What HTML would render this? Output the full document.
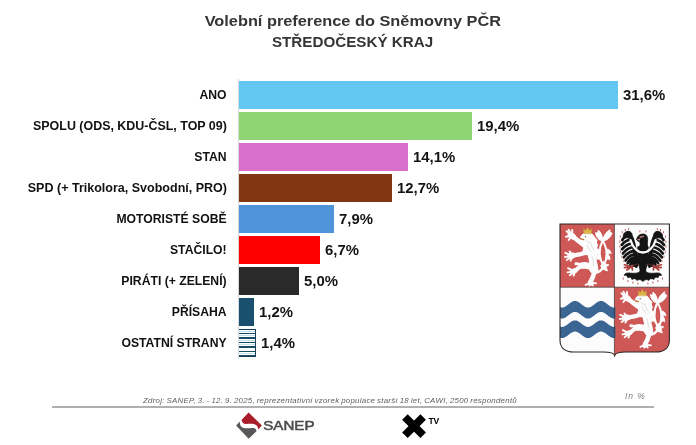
<!DOCTYPE html>
<html lang="cs">
<head>
<meta charset="utf-8">
<title>Volební preference do Sněmovny PČR – Středočeský kraj</title>
<style>
html,body{margin:0;padding:0;background:#fff;}
body{width:696px;height:445px;position:relative;overflow:hidden;font-family:"Liberation Sans",sans-serif;}
.abs{position:absolute;white-space:nowrap;}
.title{left:4.5px;width:696px;text-align:center;font-weight:bold;color:#353535;font-size:15.2px;line-height:20px;}
.title span{display:inline-block;transform-origin:50% 50%;}
.lab{right:469.4px;font-weight:bold;font-size:12.2px;color:#111;line-height:14px;transform-origin:100% 50%;}
.val{font-weight:bold;font-size:14.9px;color:#141414;line-height:16px;}
.bar{position:absolute;left:238.75px;height:27.7px;}
.axis{position:absolute;left:238px;top:79px;width:1px;height:280px;background:#d9d9d9;}
.src{font-style:italic;font-size:7.5px;color:#606060;left:143px;top:396.3px;line-height:9px;transform-origin:0 50%;letter-spacing:0.25px;word-spacing:-0.6px;transform:scaleX(1.05);}
.inp{font-style:italic;font-size:8.5px;color:#808080;left:625px;top:390.8px;line-height:10px;letter-spacing:0.9px;}
.hr{position:absolute;left:52px;top:406px;width:602px;height:1.5px;background:#b0b0b0;}
</style>
</head>
<body>
<div class="abs title" style="top:10.7px"><span id="t1" style="transform:scaleX(1.075)">Volební preference do Sněmovny PČR</span></div>
<div class="abs title" style="top:32.2px"><span id="t2" style="transform:scaleX(1.0)">STŘEDOČESKÝ KRAJ</span></div>

<div class="axis"></div>

<div class="bar" style="top:81.10px;width:379px;background:#62c8f2"></div>
<div class="bar" style="top:112.15px;width:232.8px;background:#8fd573"></div>
<div class="bar" style="top:143.20px;width:169.2px;background:#d86fca"></div>
<div class="bar" style="top:174.25px;width:153px;background:#813511"></div>
<div class="bar" style="top:205.30px;width:94.8px;background:#4f94d8"></div>
<div class="bar" style="top:236.35px;width:81.1px;background:#fe0000"></div>
<div class="bar" style="top:267.40px;width:60px;background:#2a2a2a"></div>
<div class="bar" style="top:298.45px;width:15.1px;background:#19506e"></div>
<div class="bar" id="ost" style="top:328.7px;height:28px;width:16.9px;box-sizing:border-box;border:solid #173f57;border-width:0.8px 1.3px 1.4px 0;background:repeating-linear-gradient(to bottom,#fff 0,#fff 1.1px,#c4e3ee 1.1px,#c4e3ee 1.9px,#fff 1.9px,#fff 3.1px,#1d4c66 3.1px,#1d4c66 4.4px)"></div>

<div class="abs lab" style="top:87.6px">ANO</div>
<div class="abs lab" style="top:118.6px;transform:scaleX(1.021)">SPOLU (ODS, KDU-ČSL, TOP 09)</div>
<div class="abs lab" style="top:149.6px">STAN</div>
<div class="abs lab" style="top:180.7px;transform:scaleX(1.027)">SPD (+ Trikolora, Svobodní, PRO)</div>
<div class="abs lab" style="top:212px">MOTORISTÉ SOBĚ</div>
<div class="abs lab" style="top:243px">STAČILO!</div>
<div class="abs lab" style="top:274px">PIRÁTI (+ ZELENÍ)</div>
<div class="abs lab" style="top:305px">PŘÍSAHA</div>
<div class="abs lab" style="top:336px">OSTATNÍ STRANY</div>

<div class="abs val" style="left:623px;top:87px">31,6%</div>
<div class="abs val" style="left:477px;top:118px">19,4%</div>
<div class="abs val" style="left:413px;top:149px">14,1%</div>
<div class="abs val" style="left:397px;top:180px">12,7%</div>
<div class="abs val" style="left:339px;top:211px">7,9%</div>
<div class="abs val" style="left:325px;top:242px">6,7%</div>
<div class="abs val" style="left:304px;top:273px">5,0%</div>
<div class="abs val" style="left:259px;top:304px">1,2%</div>
<div class="abs val" style="left:261px;top:335px">1,4%</div>

<div class="abs src" id="src">Zdroj: SANEP, 3. - 12. 9. 2025, reprezentativní vzorek populace starší 18 let, CAWI, 2500 respondentů</div>
<div class="abs inp">In %</div>
<div class="hr"></div>

<!--ARMS-->
<svg class="abs" style="left:0;top:0" width="696" height="445" viewBox="0 0 696 445">
<defs><clipPath id="shc"><path d="M560,224 H669.4 V340 C669.4,348 664,352 656,352 H626 C619,352 615.4,353 614.7,355.6 C614,353 610.4,352 603.4,352 H573.4 C565.4,352 560,348 560,340 Z"/></clipPath></defs>
<g clip-path="url(#shc)">
<rect x="560" y="224" width="110" height="133" fill="#fcfcfc"/>
<rect x="560" y="224" width="54.4" height="63.2" fill="#cd5856"/>
<rect x="614.4" y="287.2" width="56" height="70" fill="#cd5856"/>
<path d="M558.0,306.10 L558.5,306.41 L559.0,306.68 L559.5,306.92 L560.0,307.13 L560.5,307.29 L561.0,307.41 L561.5,307.48 L562.0,307.50 L562.5,307.48 L563.0,307.41 L563.5,307.29 L564.0,307.13 L564.5,306.92 L565.0,306.68 L565.5,306.41 L566.0,306.10 L566.5,305.76 L567.0,305.40 L567.5,305.03 L568.0,304.64 L568.5,304.25 L569.0,303.86 L569.5,303.47 L570.0,303.10 L570.5,302.74 L571.0,302.40 L571.5,302.09 L572.0,301.82 L572.5,301.58 L573.0,301.37 L573.5,301.21 L574.0,301.09 L574.5,301.02 L575.0,301.00 L575.5,301.02 L576.0,301.09 L576.5,301.21 L577.0,301.37 L577.5,301.58 L578.0,301.82 L578.5,302.09 L579.0,302.40 L579.5,302.74 L580.0,303.10 L580.5,303.47 L581.0,303.86 L581.5,304.25 L582.0,304.64 L582.5,305.03 L583.0,305.40 L583.5,305.76 L584.0,306.10 L584.5,306.41 L585.0,306.68 L585.5,306.92 L586.0,307.13 L586.5,307.29 L587.0,307.41 L587.5,307.48 L588.0,307.50 L588.5,307.48 L589.0,307.41 L589.5,307.29 L590.0,307.13 L590.5,306.92 L591.0,306.68 L591.5,306.41 L592.0,306.10 L592.5,305.76 L593.0,305.40 L593.5,305.03 L594.0,304.64 L594.5,304.25 L595.0,303.86 L595.5,303.47 L596.0,303.10 L596.5,302.74 L597.0,302.40 L597.5,302.09 L598.0,301.82 L598.5,301.58 L599.0,301.37 L599.5,301.21 L600.0,301.09 L600.5,301.02 L601.0,301.00 L601.5,301.02 L602.0,301.09 L602.5,301.21 L603.0,301.37 L603.5,301.58 L604.0,301.82 L604.5,302.09 L605.0,302.40 L605.5,302.74 L606.0,303.10 L606.5,303.47 L607.0,303.86 L607.5,304.25 L608.0,304.64 L608.5,305.03 L609.0,305.40 L609.5,305.76 L610.0,306.10 L610.5,306.41 L611.0,306.68 L611.5,306.92 L612.0,307.13 L612.5,307.29 L613.0,307.41 L613.5,307.48 L614.0,307.50 L614.5,307.48 L615.0,307.41 L615.5,307.29 L615.5,318.29 L615.0,318.41 L614.5,318.48 L614.0,318.50 L613.5,318.48 L613.0,318.41 L612.5,318.29 L612.0,318.13 L611.5,317.92 L611.0,317.68 L610.5,317.41 L610.0,317.10 L609.5,316.76 L609.0,316.40 L608.5,316.03 L608.0,315.64 L607.5,315.25 L607.0,314.86 L606.5,314.47 L606.0,314.10 L605.5,313.74 L605.0,313.40 L604.5,313.09 L604.0,312.82 L603.5,312.58 L603.0,312.37 L602.5,312.21 L602.0,312.09 L601.5,312.02 L601.0,312.00 L600.5,312.02 L600.0,312.09 L599.5,312.21 L599.0,312.37 L598.5,312.58 L598.0,312.82 L597.5,313.09 L597.0,313.40 L596.5,313.74 L596.0,314.10 L595.5,314.47 L595.0,314.86 L594.5,315.25 L594.0,315.64 L593.5,316.03 L593.0,316.40 L592.5,316.76 L592.0,317.10 L591.5,317.41 L591.0,317.68 L590.5,317.92 L590.0,318.13 L589.5,318.29 L589.0,318.41 L588.5,318.48 L588.0,318.50 L587.5,318.48 L587.0,318.41 L586.5,318.29 L586.0,318.13 L585.5,317.92 L585.0,317.68 L584.5,317.41 L584.0,317.10 L583.5,316.76 L583.0,316.40 L582.5,316.03 L582.0,315.64 L581.5,315.25 L581.0,314.86 L580.5,314.47 L580.0,314.10 L579.5,313.74 L579.0,313.40 L578.5,313.09 L578.0,312.82 L577.5,312.58 L577.0,312.37 L576.5,312.21 L576.0,312.09 L575.5,312.02 L575.0,312.00 L574.5,312.02 L574.0,312.09 L573.5,312.21 L573.0,312.37 L572.5,312.58 L572.0,312.82 L571.5,313.09 L571.0,313.40 L570.5,313.74 L570.0,314.10 L569.5,314.47 L569.0,314.86 L568.5,315.25 L568.0,315.64 L567.5,316.03 L567.0,316.40 L566.5,316.76 L566.0,317.10 L565.5,317.41 L565.0,317.68 L564.5,317.92 L564.0,318.13 L563.5,318.29 L563.0,318.41 L562.5,318.48 L562.0,318.50 L561.5,318.48 L561.0,318.41 L560.5,318.29 L560.0,318.13 L559.5,317.92 L559.0,317.68 L558.5,317.41 L558.0,317.10 Z" fill="#3b6592"/>
<path d="M558.0,325.50 L558.5,325.81 L559.0,326.08 L559.5,326.32 L560.0,326.53 L560.5,326.69 L561.0,326.81 L561.5,326.88 L562.0,326.90 L562.5,326.88 L563.0,326.81 L563.5,326.69 L564.0,326.53 L564.5,326.32 L565.0,326.08 L565.5,325.81 L566.0,325.50 L566.5,325.16 L567.0,324.80 L567.5,324.43 L568.0,324.04 L568.5,323.65 L569.0,323.26 L569.5,322.87 L570.0,322.50 L570.5,322.14 L571.0,321.80 L571.5,321.49 L572.0,321.22 L572.5,320.98 L573.0,320.77 L573.5,320.61 L574.0,320.49 L574.5,320.42 L575.0,320.40 L575.5,320.42 L576.0,320.49 L576.5,320.61 L577.0,320.77 L577.5,320.98 L578.0,321.22 L578.5,321.49 L579.0,321.80 L579.5,322.14 L580.0,322.50 L580.5,322.87 L581.0,323.26 L581.5,323.65 L582.0,324.04 L582.5,324.43 L583.0,324.80 L583.5,325.16 L584.0,325.50 L584.5,325.81 L585.0,326.08 L585.5,326.32 L586.0,326.53 L586.5,326.69 L587.0,326.81 L587.5,326.88 L588.0,326.90 L588.5,326.88 L589.0,326.81 L589.5,326.69 L590.0,326.53 L590.5,326.32 L591.0,326.08 L591.5,325.81 L592.0,325.50 L592.5,325.16 L593.0,324.80 L593.5,324.43 L594.0,324.04 L594.5,323.65 L595.0,323.26 L595.5,322.87 L596.0,322.50 L596.5,322.14 L597.0,321.80 L597.5,321.49 L598.0,321.22 L598.5,320.98 L599.0,320.77 L599.5,320.61 L600.0,320.49 L600.5,320.42 L601.0,320.40 L601.5,320.42 L602.0,320.49 L602.5,320.61 L603.0,320.77 L603.5,320.98 L604.0,321.22 L604.5,321.49 L605.0,321.80 L605.5,322.14 L606.0,322.50 L606.5,322.87 L607.0,323.26 L607.5,323.65 L608.0,324.04 L608.5,324.43 L609.0,324.80 L609.5,325.16 L610.0,325.50 L610.5,325.81 L611.0,326.08 L611.5,326.32 L612.0,326.53 L612.5,326.69 L613.0,326.81 L613.5,326.88 L614.0,326.90 L614.5,326.88 L615.0,326.81 L615.5,326.69 L615.5,337.89 L615.0,338.01 L614.5,338.08 L614.0,338.10 L613.5,338.08 L613.0,338.01 L612.5,337.89 L612.0,337.73 L611.5,337.52 L611.0,337.28 L610.5,337.01 L610.0,336.70 L609.5,336.36 L609.0,336.00 L608.5,335.63 L608.0,335.24 L607.5,334.85 L607.0,334.46 L606.5,334.07 L606.0,333.70 L605.5,333.34 L605.0,333.00 L604.5,332.69 L604.0,332.42 L603.5,332.18 L603.0,331.97 L602.5,331.81 L602.0,331.69 L601.5,331.62 L601.0,331.60 L600.5,331.62 L600.0,331.69 L599.5,331.81 L599.0,331.97 L598.5,332.18 L598.0,332.42 L597.5,332.69 L597.0,333.00 L596.5,333.34 L596.0,333.70 L595.5,334.07 L595.0,334.46 L594.5,334.85 L594.0,335.24 L593.5,335.63 L593.0,336.00 L592.5,336.36 L592.0,336.70 L591.5,337.01 L591.0,337.28 L590.5,337.52 L590.0,337.73 L589.5,337.89 L589.0,338.01 L588.5,338.08 L588.0,338.10 L587.5,338.08 L587.0,338.01 L586.5,337.89 L586.0,337.73 L585.5,337.52 L585.0,337.28 L584.5,337.01 L584.0,336.70 L583.5,336.36 L583.0,336.00 L582.5,335.63 L582.0,335.24 L581.5,334.85 L581.0,334.46 L580.5,334.07 L580.0,333.70 L579.5,333.34 L579.0,333.00 L578.5,332.69 L578.0,332.42 L577.5,332.18 L577.0,331.97 L576.5,331.81 L576.0,331.69 L575.5,331.62 L575.0,331.60 L574.5,331.62 L574.0,331.69 L573.5,331.81 L573.0,331.97 L572.5,332.18 L572.0,332.42 L571.5,332.69 L571.0,333.00 L570.5,333.34 L570.0,333.70 L569.5,334.07 L569.0,334.46 L568.5,334.85 L568.0,335.24 L567.5,335.63 L567.0,336.00 L566.5,336.36 L566.0,336.70 L565.5,337.01 L565.0,337.28 L564.5,337.52 L564.0,337.73 L563.5,337.89 L563.0,338.01 L562.5,338.08 L562.0,338.10 L561.5,338.08 L561.0,338.01 L560.5,337.89 L560.0,337.73 L559.5,337.52 L559.0,337.28 L558.5,337.01 L558.0,336.70 Z" fill="#3b6592"/>
</g>
<g transform="translate(0,0)" fill="none" stroke="#fdfdfd" stroke-linecap="round" stroke-linejoin="round">
<path d="M594,272.6 C598.5,273 602.4,270 603.6,265.4" stroke-width="2.8"/>
<path d="M603.6,265.4 C598.4,258 598.6,248 602.6,241 C604,238.4 606,236.6 607.6,234.4" stroke-width="2"/>
<path d="M603.6,265.4 C608,258 607.4,248 602.8,241 C601.2,238.4 599.6,237 598.6,234.8" stroke-width="2"/>
<path d="M602.6,241.4 C599.4,240.4 596,237.8 595.6,232.6 C597.2,233.6 598.4,232.6 598.2,230 C601,232.4 603,236 602.6,241.4 Z" fill="#fdfdfd" stroke-width="1"/>
<path d="M602.8,241.4 C603.2,236.6 605.4,232.4 610,229.8 C609.4,232 610.4,233.2 612,233 C610.8,237.4 607,240.4 602.8,241.4 Z" fill="#fdfdfd" stroke-width="1"/>
<path d="M599.6,249 C597,249 595.4,251 595,253.6 C596.4,253 597.6,253.4 597.8,254.8 C596.4,256 596,258 596.4,260 C597.6,258.6 598.8,258.8 599.6,259.8 Z" fill="#fdfdfd" stroke-width="0.8"/>
<path d="M606.6,249 C609.2,249 610.8,251 611.2,253.6 C609.8,253 608.6,253.4 608.4,254.8 C609.8,256 610.2,258 609.8,260 C608.6,258.6 607.4,258.8 606.6,259.8 Z" fill="#fdfdfd" stroke-width="0.8"/>
<path d="M603.6,261.4 L600.6,266 L603,269.4 L607.6,271 L606.2,267 L609,264.8 L605.6,264 Z" fill="#fdfdfd" stroke-width="0.8"/>
<path d="M583.4,241 C582.6,246 584,250.6 587.2,253.4 C588.8,257 589.8,260.6 589.6,264 C588.8,266.8 589.4,270 591,272.4 L597.8,272.6 C598.2,268 597,263 595.6,259 C597,253 597.4,246.4 596.4,241.6 C595.2,236.6 591.6,234.2 588,234.4 Z" fill="#fdfdfd" stroke-width="1"/>
<path d="M580.4,238.4 C580.6,235.2 583.6,232.8 587.6,232.8 C592,232.8 595,235.8 594.8,239.8 C594.6,243.2 591.4,245.2 588,244.6 C585.8,244.2 584.6,242.8 584.2,241.4 C582.4,241.6 580.6,240.6 580.4,238.4 Z" fill="#fdfdfd" stroke-width="1"/>
<path d="M594.4,237.4 L597.4,240 L596,242 L597.8,245.4 L596.2,247 L597.8,250.6 L596.2,252 L597.4,256 L594,254.6 Z" fill="#fdfdfd" stroke-width="0.8"/>
<path d="M584,247.6 L582.6,251.4 L585.6,251.2 L585.4,255 L588.4,253.6 L590,257 L592,253 Z" fill="#fdfdfd" stroke-width="0.8"/>
<path d="M585.6,246.4 C581.4,243.6 577,240 573.2,236.8" stroke-width="4.4"/>
<path d="M573,236.6 L570.6,234.8" stroke-width="6"/>
<path d="M570.4,234.4 L566.6,231.2 M571,233.6 L568.6,229.8 M572.4,233.4 L572.2,230 M569.8,236 L566,236.8 M570.6,237.4 L568.6,240" stroke-width="1.9"/>
<path d="M586.6,252.6 C582,254 577.6,255 573.4,255.4" stroke-width="4.2"/>
<path d="M573,255.4 L570.2,255.8" stroke-width="5.8"/>
<path d="M570,254.8 L565.4,252.8 M569.6,256.4 L565,257 M570.2,257.6 L566.8,260 M572,258 L570.6,260.6 M571.2,253.6 L569.6,251.4" stroke-width="1.9"/>
<path d="M593,267.6 C589,265.6 585.4,265 582.4,265.6" stroke-width="6.6"/>
<path d="M581.6,265.2 C579,264 577.4,263.6 576,263.8" stroke-width="3"/>
<path d="M581.6,265.6 C579,267.4 577,269.4 575,270.6" stroke-width="4"/>
<path d="M575,270.6 L572.6,271.4" stroke-width="5.2"/>
<path d="M572.4,270.4 L568,268.2 M572,271.8 L567.6,272.4 M572.6,273 L569.8,275.2 M574.4,273.4 L573.6,275.6" stroke-width="1.9"/>
<path d="M594.6,269 C594.4,272.4 593.8,275 592.6,277.6 C591.6,279.6 590.8,281 590.4,282.2" stroke-width="4.6"/>
<path d="M590,282.6 L590.4,283.4" stroke-width="4.6"/>
<path d="M589.2,283.4 L585.6,284.8 M590,284 L589.4,285.6 M591,283.8 L593,285.4 M591.4,282.8 L596,283.4" stroke-width="1.9"/>
<path d="M584,233.4 L583.4,228.8 L585.6,230.6 L587.6,227.6 L589.6,230.6 L591.8,228.8 L591.2,233.4 Z" fill="#dfb648" stroke="#c39a34" stroke-width="0.5"/>
<path d="M580.6,238.8 L583.6,239.6" stroke="#c07a34" stroke-width="1.4"/>
<circle cx="585.4" cy="236.8" r="0.8" fill="#777" stroke="none"/>
<path d="M587,244.6 C588,247.4 589.4,249.6 591.4,251.4 M590.6,243.6 C591.6,246.6 592.8,249 594.6,250.8 M592,256.6 C593,259.6 593.6,262.6 593.4,265.6 M586,240.6 C587.4,242 589,242.6 590.8,242.4" stroke="#bdbdbd" stroke-width="0.5"/>
</g>
<g transform="translate(54.8,62.0)" fill="none" stroke="#fdfdfd" stroke-linecap="round" stroke-linejoin="round">
<path d="M594,272.6 C598.5,273 602.4,270 603.6,265.4" stroke-width="2.8"/>
<path d="M603.6,265.4 C598.4,258 598.6,248 602.6,241 C604,238.4 606,236.6 607.6,234.4" stroke-width="2"/>
<path d="M603.6,265.4 C608,258 607.4,248 602.8,241 C601.2,238.4 599.6,237 598.6,234.8" stroke-width="2"/>
<path d="M602.6,241.4 C599.4,240.4 596,237.8 595.6,232.6 C597.2,233.6 598.4,232.6 598.2,230 C601,232.4 603,236 602.6,241.4 Z" fill="#fdfdfd" stroke-width="1"/>
<path d="M602.8,241.4 C603.2,236.6 605.4,232.4 610,229.8 C609.4,232 610.4,233.2 612,233 C610.8,237.4 607,240.4 602.8,241.4 Z" fill="#fdfdfd" stroke-width="1"/>
<path d="M599.6,249 C597,249 595.4,251 595,253.6 C596.4,253 597.6,253.4 597.8,254.8 C596.4,256 596,258 596.4,260 C597.6,258.6 598.8,258.8 599.6,259.8 Z" fill="#fdfdfd" stroke-width="0.8"/>
<path d="M606.6,249 C609.2,249 610.8,251 611.2,253.6 C609.8,253 608.6,253.4 608.4,254.8 C609.8,256 610.2,258 609.8,260 C608.6,258.6 607.4,258.8 606.6,259.8 Z" fill="#fdfdfd" stroke-width="0.8"/>
<path d="M603.6,261.4 L600.6,266 L603,269.4 L607.6,271 L606.2,267 L609,264.8 L605.6,264 Z" fill="#fdfdfd" stroke-width="0.8"/>
<path d="M583.4,241 C582.6,246 584,250.6 587.2,253.4 C588.8,257 589.8,260.6 589.6,264 C588.8,266.8 589.4,270 591,272.4 L597.8,272.6 C598.2,268 597,263 595.6,259 C597,253 597.4,246.4 596.4,241.6 C595.2,236.6 591.6,234.2 588,234.4 Z" fill="#fdfdfd" stroke-width="1"/>
<path d="M580.4,238.4 C580.6,235.2 583.6,232.8 587.6,232.8 C592,232.8 595,235.8 594.8,239.8 C594.6,243.2 591.4,245.2 588,244.6 C585.8,244.2 584.6,242.8 584.2,241.4 C582.4,241.6 580.6,240.6 580.4,238.4 Z" fill="#fdfdfd" stroke-width="1"/>
<path d="M594.4,237.4 L597.4,240 L596,242 L597.8,245.4 L596.2,247 L597.8,250.6 L596.2,252 L597.4,256 L594,254.6 Z" fill="#fdfdfd" stroke-width="0.8"/>
<path d="M584,247.6 L582.6,251.4 L585.6,251.2 L585.4,255 L588.4,253.6 L590,257 L592,253 Z" fill="#fdfdfd" stroke-width="0.8"/>
<path d="M585.6,246.4 C581.4,243.6 577,240 573.2,236.8" stroke-width="4.4"/>
<path d="M573,236.6 L570.6,234.8" stroke-width="6"/>
<path d="M570.4,234.4 L566.6,231.2 M571,233.6 L568.6,229.8 M572.4,233.4 L572.2,230 M569.8,236 L566,236.8 M570.6,237.4 L568.6,240" stroke-width="1.9"/>
<path d="M586.6,252.6 C582,254 577.6,255 573.4,255.4" stroke-width="4.2"/>
<path d="M573,255.4 L570.2,255.8" stroke-width="5.8"/>
<path d="M570,254.8 L565.4,252.8 M569.6,256.4 L565,257 M570.2,257.6 L566.8,260 M572,258 L570.6,260.6 M571.2,253.6 L569.6,251.4" stroke-width="1.9"/>
<path d="M593,267.6 C589,265.6 585.4,265 582.4,265.6" stroke-width="6.6"/>
<path d="M581.6,265.2 C579,264 577.4,263.6 576,263.8" stroke-width="3"/>
<path d="M581.6,265.6 C579,267.4 577,269.4 575,270.6" stroke-width="4"/>
<path d="M575,270.6 L572.6,271.4" stroke-width="5.2"/>
<path d="M572.4,270.4 L568,268.2 M572,271.8 L567.6,272.4 M572.6,273 L569.8,275.2 M574.4,273.4 L573.6,275.6" stroke-width="1.9"/>
<path d="M594.6,269 C594.4,272.4 593.8,275 592.6,277.6 C591.6,279.6 590.8,281 590.4,282.2" stroke-width="4.6"/>
<path d="M590,282.6 L590.4,283.4" stroke-width="4.6"/>
<path d="M589.2,283.4 L585.6,284.8 M590,284 L589.4,285.6 M591,283.8 L593,285.4 M591.4,282.8 L596,283.4" stroke-width="1.9"/>
<path d="M584,233.4 L583.4,228.8 L585.6,230.6 L587.6,227.6 L589.6,230.6 L591.8,228.8 L591.2,233.4 Z" fill="#dfb648" stroke="#c39a34" stroke-width="0.5"/>
<path d="M580.6,238.8 L583.6,239.6" stroke="#c07a34" stroke-width="1.4"/>
<circle cx="585.4" cy="236.8" r="0.8" fill="#777" stroke="none"/>
<path d="M587,244.6 C588,247.4 589.4,249.6 591.4,251.4 M590.6,243.6 C591.6,246.6 592.8,249 594.6,250.8 M592,256.6 C593,259.6 593.6,262.6 593.4,265.6 M586,240.6 C587.4,242 589,242.6 590.8,242.4" stroke="#bdbdbd" stroke-width="0.5"/>
</g>
<g fill="#141414" stroke="#141414" stroke-width="0.8" stroke-linejoin="round" stroke-linecap="round">
<path d="M629.9,235.7 Q624.9,235.7 622.3,240.0 M631.5,239.5 Q625.4,240.0 621.8,244.9 M632.6,243.3 Q626.1,244.1 622.1,249.2 M633.3,247.0 Q626.9,248.1 622.9,253.5 M634.0,250.8 Q627.8,251.9 623.9,257.3 M634.4,254.3 Q628.8,255.2 625.6,260.5 M635.0,257.3 Q630.1,258.1 627.7,263.2 M635.6,259.4 Q631.8,259.9 630.4,264.8 M636.5,260.5 Q633.7,261.1 633.3,266.0 M637.9,261 Q635.9,261.6 636.3,266.6 " fill="none" stroke-width="2.7"/>
<path d="M628.5,233 C631.4,236 633.3,242 634.5,249 C635.3,254 636.3,258 637.9,262" fill="none" stroke-width="4"/>
<path d="M623.3,237 C622.7,233.6 625.3,231.2 628.3,231.4 C630.7,231.6 632.3,233 632.1,235.4 L629.9,238 Z"/>
<path d="M655.9,235.7 Q660.9,235.7 663.5,240.0 M654.3,239.5 Q660.4,240.0 664.0,244.9 M653.2,243.3 Q659.6,244.1 663.7,249.2 M652.5,247.0 Q658.9,248.1 662.9,253.5 M651.8,250.8 Q658.0,251.9 661.9,257.3 M651.4,254.3 Q657.0,255.2 660.2,260.5 M650.8,257.3 Q655.6,258.1 658.1,263.2 M650.2,259.4 Q654.0,259.9 655.4,264.8 M649.3,260.5 Q652.1,261.1 652.5,266.0 M647.9,261 Q649.9,261.6 649.5,266.6 " fill="none" stroke-width="2.7"/>
<path d="M657.3,233 C654.4,236 652.5,242 651.3,249 C650.5,254 649.5,258 647.9,262" fill="none" stroke-width="4"/>
<path d="M662.5,237 C663.1,233.6 660.5,231.2 657.5,231.4 C655.1,231.6 653.5,233 653.7,235.4 L655.9,238 Z"/>
<path d="M637.6999999999999,247 C637.3,256 638.3,264 640.6999999999999,272.4 L645.1,272.4 C647.5,264 648.5,256 648.1,247 Z"/>
<path d="M636.6999999999999,239.4 C637.3,236 639.9,233.8 643.5,234 C646.9,234.4 648.1,237.4 647.5,241 C647.1,244 647.5,246 648.1,248 L638.5,248 C640.3,246 640.5,243.6 639.5,241.6 C638.3,241.6 637.1,240.8 636.6999999999999,239.4 Z"/>
<path d="M640.5,270 C639.9,274 633.9,273.4 628.9,273 C626.5,272.8 624.5,273.6 624.3,275.4 C626.3,275 627.6999999999999,275.8 627.5,277.6 C629.9,276.6 631.6999999999999,277.4 631.9,279.4 C634.3,278 636.3,278.6 636.9,280.4 C638.9,279 641.5,279.4 642.9,281.6 C644.3,279.4 646.9,279 648.9,280.4 C649.5,278.6 651.5,278 653.9,279.4 C654.1,277.4 655.9,276.6 658.3,277.6 C658.1,275.8 659.5,275 661.5,275.4 C661.3,273.6 659.3,272.8 656.9,273 C651.9,273.4 645.9,274 645.3,270 Z"/>
</g>
<path d="M630.6,240.2 C632.6999999999999,248 637.9,252.5 642.9,252.5 C647.9,252.5 653.5,248 655.6,240.2" fill="none" stroke="#fcfcfc" stroke-width="2.3" stroke-linecap="round"/>
<path d="M636.5,239.6 L640.3,238.4 L639.6999999999999,240.8 Z" fill="#c98a86"/>
<path d="M639.3,236.6 L644.1,235.4 L643.9,237 L639.9,238 Z" fill="#b77a78"/>
<path d="M637.9,264.6 C634.9,265 632.9,266.4 630.9,266.6 M630.9,266.6 L624.3,264.8 M630.9,266.8 L624.5,267.6 M630.9,267 L626.9,270 M631.9,267 L632.5,270" stroke="#a8403c" stroke-width="1.7" fill="none" stroke-linecap="round"/>
<path d="M638.3,265 L633.9,266" stroke="#141414" stroke-width="2.2" fill="none"/>
<path d="M647.9,264.6 C650.9,265 652.9,266.4 654.9,266.6 M654.9,266.6 L661.5,264.8 M654.9,266.8 L661.3,267.6 M654.9,267 L658.9,270 M653.9,267 L653.3,270" stroke="#a8403c" stroke-width="1.7" fill="none" stroke-linecap="round"/>
<path d="M647.5,265 L651.9,266" stroke="#141414" stroke-width="2.2" fill="none"/>
<path d="M625.3,229.4 l0,1.2 M628.5,228.6 l0,1.2 M622.3,231.6 l0,1.2 M620.3,236 l0,1.2 M619.9,241 l0,1.2 M619.9,246 l0,1.2 M620.5,251 l0,1.2 M621.9,256 l0,1.2 M623.9,260.6 l0,1.2 M626.5,264.4 l0,1.2 M639.9,230.8 l0,1.2 M623.3,278 l0,1.2 M627.9,280.4 l0,1.2 M632.9,282 l0,1.2 M637.9,283 l0,1.2 M660.5,229.4 l0,1.2 M657.3,228.6 l0,1.2 M663.5,231.6 l0,1.2 M665.5,236 l0,1.2 M665.9,241 l0,1.2 M665.9,246 l0,1.2 M665.3,251 l0,1.2 M663.9,256 l0,1.2 M661.9,260.6 l0,1.2 M659.3,264.4 l0,1.2 M645.9,230.8 l0,1.2 M662.5,278 l0,1.2 M657.9,280.4 l0,1.2 M652.9,282 l0,1.2 M647.9,283 l0,1.2 " stroke="#c0605c" stroke-width="1" fill="none" stroke-linecap="round"/>
<path d="M614.4,224 V354 M560,287.2 H669.4" stroke="#3a3030" stroke-width="0.7" fill="none"/>
<path d="M560,224 H669.4 V340 C669.4,348 664,352 656,352 H626 C619,352 615.4,353 614.7,355.6 C614,353 610.4,352 603.4,352 H573.4 C565.4,352 560,348 560,340 Z" fill="none" stroke="#2e2626" stroke-width="1.1"/>
<g>
<path d="M248.6,412.5 L261.9,425.4 L258.3,429.6 C258.2,427.2 257,425 254.4,424.2 C252,423.5 249,424 246,424 C243.6,424 242.2,422.6 241.5,420 Z" fill="#aa1e2b"/>
<path d="M236.1,425.4 L239.8,421.4 C239.6,424 240.4,426.6 243,427.8 C245,428.6 249,428.4 252,428 C254.6,427.6 256.2,428.8 256.5,431.2 L248.6,438.8 Z" fill="#58585a"/>
<text x="263.3" y="429.8" font-family="Liberation Sans, sans-serif" font-size="12" fill="#4a4a4c" stroke="#4a4a4c" stroke-width="0.5" textLength="51.2" lengthAdjust="spacingAndGlyphs">SANEP</text>
</g>
<g fill="#000">
<rect x="-12.9" y="-3.95" width="25.8" height="7.9" transform="translate(414.05,426.15) rotate(45)"/>
<rect x="-12.9" y="-3.95" width="25.8" height="7.9" transform="translate(414.05,426.15) rotate(-45)"/>
<text x="428.4" y="423.5" font-family="Liberation Sans, sans-serif" font-weight="bold" font-size="9.9" textLength="10.9" lengthAdjust="spacingAndGlyphs">TV</text>
</g>
</svg>
<!--/ARMS-->
</body>
</html>
